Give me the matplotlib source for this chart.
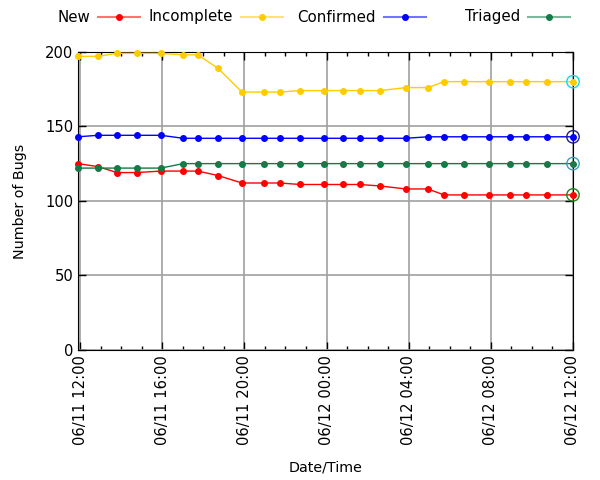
import matplotlib
matplotlib.use('Agg')
import matplotlib.pyplot as plt
import matplotlib.dates as mdates
from matplotlib.lines import Line2D
import pandas as pd

# sample times (month/day hour:minute)
times = ['06/11 11:54', '06/11 12:52', '06/11 13:48', '06/11 14:46', '06/11 15:56',
         '06/11 17:01', '06/11 17:44', '06/11 18:43', '06/11 19:53', '06/11 20:57',
         '06/11 21:44', '06/11 22:42', '06/11 23:52', '06/12 00:48', '06/12 01:37',
         '06/12 02:36', '06/12 03:52', '06/12 04:56', '06/12 05:43', '06/12 06:41',
         '06/12 07:54', '06/12 08:55', '06/12 09:42', '06/12 10:43', '06/12 12:00']

new = [125, 123, 119, 119, 120, 120, 120, 117, 112, 112, 112, 111, 111, 111, 111,
       110, 108, 108, 104, 104, 104, 104, 104, 104, 104]
incomplete = [197, 197, 199, 199, 199, 198, 198, 189, 173, 173, 173, 174, 174, 174, 174,
              174, 176, 176, 180, 180, 180, 180, 180, 180, 180]
confirmed = [143, 144, 144, 144, 144, 142, 142, 142, 142, 142, 142, 142, 142, 142, 142,
             142, 142, 143, 143, 143, 143, 143, 143, 143, 143]
triaged = [122, 122, 122, 122, 122, 125, 125, 125, 125, 125, 125, 125, 125, 125, 125,
           125, 125, 125, 125, 125, 125, 125, 125, 125, 125]

names = ['New', 'Incomplete', 'Confirmed', 'Triaged']
colors = ['#ff0000', '#ffcc00', '#0000ff', '#137a48']
ring_colors = ['#1a8a1a', '#00e0ee', '#202080', '#3aa0b8']

t = pd.to_datetime(['2015/' + s for s in times], format='%Y/%m/%d %H:%M')
data = [new, incomplete, confirmed, triaged]

plt.rcParams['font.family'] = 'DejaVu Sans'
plt.rcParams['font.size'] = 10.6

fig = plt.figure(figsize=(6, 4.8), dpi=100)
ax = fig.add_axes([0.13, 0.271, 0.825, 0.621])

for vals, c, rc in zip(data, colors, ring_colors):
    ax.plot(t, vals, color=c, lw=1, marker='o', ms=4, zorder=3, clip_on=False)
    # open ring on the latest value
    ax.scatter([t[-1]], [vals[-1]], s=80, facecolors='none', edgecolors=rc,
               linewidths=1, zorder=4, clip_on=False)

ax.set_xlim(t[0], t[-1])
ax.set_ylim(0, 200)
ax.set_yticks([0, 50, 100, 150, 200])

ax.xaxis.set_major_locator(mdates.HourLocator(byhour=range(0, 24, 4)))
ax.xaxis.set_minor_locator(mdates.HourLocator())
ax.xaxis.set_major_formatter(mdates.DateFormatter('%m/%d %H:%M'))
plt.setp(ax.get_xticklabels(), rotation=90)

ax.tick_params(which='both', direction='in', top=True, right=True)
ax.tick_params(which='major', length=6, width=1)
ax.tick_params(which='minor', length=3, width=1)
ax.grid(True, which='major', color='#a0a0a0', lw=1.2)
ax.set_axisbelow(True)

ax.set_xlabel('Date/Time', fontsize=10.3, labelpad=11)
ax.set_ylabel('Number of Bugs', fontsize=10.3, labelpad=13)

# gnuplot style key: right-justified text followed by sample
text_right = [90, 233, 376, 520]
for name, c, xr in zip(names, colors, text_right):
    y = 1 - 17 / 480
    fig.text(xr / 600, y, name, ha='right', va='center', fontsize=10.8)
    x0 = (xr + 8) / 600
    x1 = (xr + 50) / 600
    fig.add_artist(Line2D([x0, x1], [y, y], color=c, lw=1.5, alpha=0.55,
                          transform=fig.transFigure))
    fig.add_artist(Line2D([(x0 + x1) / 2], [y], color=c, marker='o', ms=4,
                          transform=fig.transFigure))

fig.savefig('out.png', dpi=100)
